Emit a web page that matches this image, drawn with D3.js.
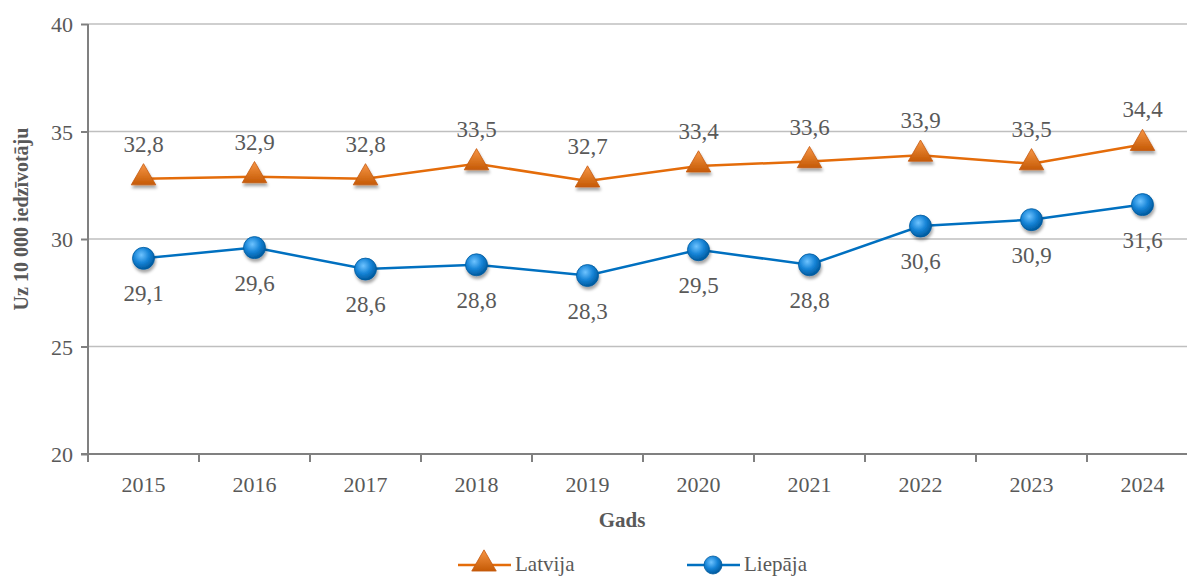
<!DOCTYPE html>
<html>
<head>
<meta charset="utf-8">
<script src="https://cdn.jsdelivr.net/npm/d3@7"></script>
<style>
body{margin:0;background:#fff;}
</style>
</head>
<body>
<script>
const width = 1187;
const height = 577;
const years = ['2015','2016','2017','2018','2019','2020','2021','2022','2023','2024'];
const latvija = [32.8,32.9,32.8,33.5,32.7,33.4,33.6,33.9,33.5,34.4];
const liepaja = [29.1,29.6,28.6,28.8,28.3,29.5,28.8,30.6,30.9,31.6];
const yTicks = [20,25,30,35,40];
const orange = '#E46C0A';
const blue = '#0070C0';
const textColor = '#595959';
const serif = '"Liberation Serif"';

const svg = d3.select('body').append('svg')
    .attr('width',width)
    .attr('height',height)
    .style('font-family',serif);

const defs = svg.append('defs');
const tg = defs.append('linearGradient').attr('id','triGrad')
    .attr('x1','0').attr('y1','0').attr('x2','0').attr('y2','1');
tg.append('stop').attr('offset','0%').attr('stop-color','#F79646');
tg.append('stop').attr('offset','100%').attr('stop-color','#C55A05');
const cg = defs.append('radialGradient').attr('id','cirGrad')
    .attr('cx','0.4').attr('cy','0.35').attr('r','0.65');
cg.append('stop').attr('offset','0%').attr('stop-color','#6EC3FF');
cg.append('stop').attr('offset','55%').attr('stop-color','#1583D6');
cg.append('stop').attr('offset','100%').attr('stop-color','#005A9E');
const sh = defs.append('filter').attr('id','shadow').attr('x','-50%').attr('y','-50%').attr('width','200%').attr('height','200%');
sh.append('feDropShadow').attr('dx',1).attr('dy',3).attr('stdDeviation',1.8).attr('flood-color','#000').attr('flood-opacity',0.35);

const x = d3.scaleBand().domain(years).range([88,1198]);
const y = d3.scaleLinear().domain([20,40]).range([454,24]);

function txt(sel, size, bold){
    return sel.style('font-family',serif).style('font-size',size+'px')
        .style('font-weight',bold ? 'bold' : 'normal').attr('fill',textColor);
}

// gridlines
svg.append('g').selectAll('line').data(yTicks.slice(1)).enter().append('line')
    .attr('x1',88).attr('x2',1198)
    .attr('y1',d=>y(d)).attr('y2',d=>y(d))
    .attr('stroke','#BFBFBF').attr('stroke-width',1.5);

// y axis
const yAxis = d3.axisLeft(y).tickValues(yTicks).tickSize(7).tickPadding(8);
const gy = svg.append('g').attr('transform','translate(88,0)').call(yAxis)
    .attr('font-family',null).attr('font-size',null);
gy.select('.domain').attr('stroke','#808080').attr('stroke-width',2).attr('d','M0,'+y(40)+'V'+y(20));
gy.selectAll('.tick line').attr('stroke','#808080').attr('stroke-width',2);
txt(gy.selectAll('.tick text'),22).attr('dy','0.35em');

// x axis
const xTickPos = years.map(d=>x(d)).concat([x.range()[1]]);
const gx = svg.append('g');
gx.append('line').attr('x1',81).attr('x2',1198).attr('y1',y(20)).attr('y2',y(20))
    .attr('stroke','#808080').attr('stroke-width',2);
gx.selectAll('line.tk').data(xTickPos).enter().append('line').attr('class','tk')
    .attr('x1',d=>d).attr('x2',d=>d).attr('y1',y(20)).attr('y2',y(20)+8)
    .attr('stroke','#808080').attr('stroke-width',2);
txt(gx.selectAll('text').data(years).enter().append('text'),22)
    .attr('x',d=>x(d)+x.bandwidth()/2).attr('y',y(20)+38)
    .attr('text-anchor','middle').text(d=>d);

// axis titles
txt(svg.append('text'),21,true).attr('x',622).attr('y',527).attr('text-anchor','middle').text('Gads');
txt(svg.append('text'),20,true).attr('transform','translate(28,219) rotate(-90)')
    .attr('text-anchor','middle').text('Uz 10 000 iedzīvotāju');

const cx = (d,i)=>x(years[i])+x.bandwidth()/2;
const line = d3.line().x(cx).y(d=>y(d));

svg.append('path').datum(latvija).attr('d',line).attr('fill','none').attr('stroke',orange).attr('stroke-width',2.5);
svg.append('path').datum(liepaja).attr('d',line).attr('fill','none').attr('stroke',blue).attr('stroke-width',2.5);

const tri = d3.symbol().type(d3.symbolTriangle).size(260);
svg.append('g').selectAll('path').data(latvija).enter().append('path')
    .attr('d',tri).attr('transform',(d,i)=>`translate(${cx(d,i)},${y(d)-1})`)
    .attr('fill','url(#triGrad)').attr('stroke','#C55A11').attr('stroke-width',0.8)
    .attr('filter','url(#shadow)');
svg.append('g').selectAll('circle').data(liepaja).enter().append('circle')
    .attr('cx',cx).attr('cy',d=>y(d)).attr('r',11)
    .attr('fill','url(#cirGrad)').attr('stroke','#005A9E').attr('stroke-width',0.8)
    .attr('filter','url(#shadow)');

const fmt = d=>d.toFixed(1).replace('.',',');
txt(svg.append('g').selectAll('text').data(latvija).enter().append('text'),23)
    .attr('x',cx).attr('y',d=>y(d)-27).attr('text-anchor','middle').text(fmt);
txt(svg.append('g').selectAll('text').data(liepaja).enter().append('text'),23)
    .attr('x',cx).attr('y',d=>y(d)+43).attr('text-anchor','middle').text(fmt);

// legend
const leg = svg.append('g');
leg.append('line').attr('x1',458).attr('x2',511).attr('y1',565).attr('y2',565).attr('stroke',orange).attr('stroke-width',2.5);
leg.append('path').attr('d',tri).attr('transform','translate(484,564)').attr('fill','url(#triGrad)').attr('stroke','#C55A11').attr('stroke-width',0.8);
txt(leg.append('text'),21).attr('x',515).attr('y',571).text('Latvija');
leg.append('line').attr('x1',687).attr('x2',740).attr('y1',565).attr('y2',565).attr('stroke',blue).attr('stroke-width',2.5);
leg.append('circle').attr('cx',713).attr('cy',565).attr('r',9).attr('fill','url(#cirGrad)').attr('stroke','#005A9E').attr('stroke-width',0.8);
txt(leg.append('text'),21).attr('x',744).attr('y',571).text('Liepāja');
</script>
</body>
</html>
